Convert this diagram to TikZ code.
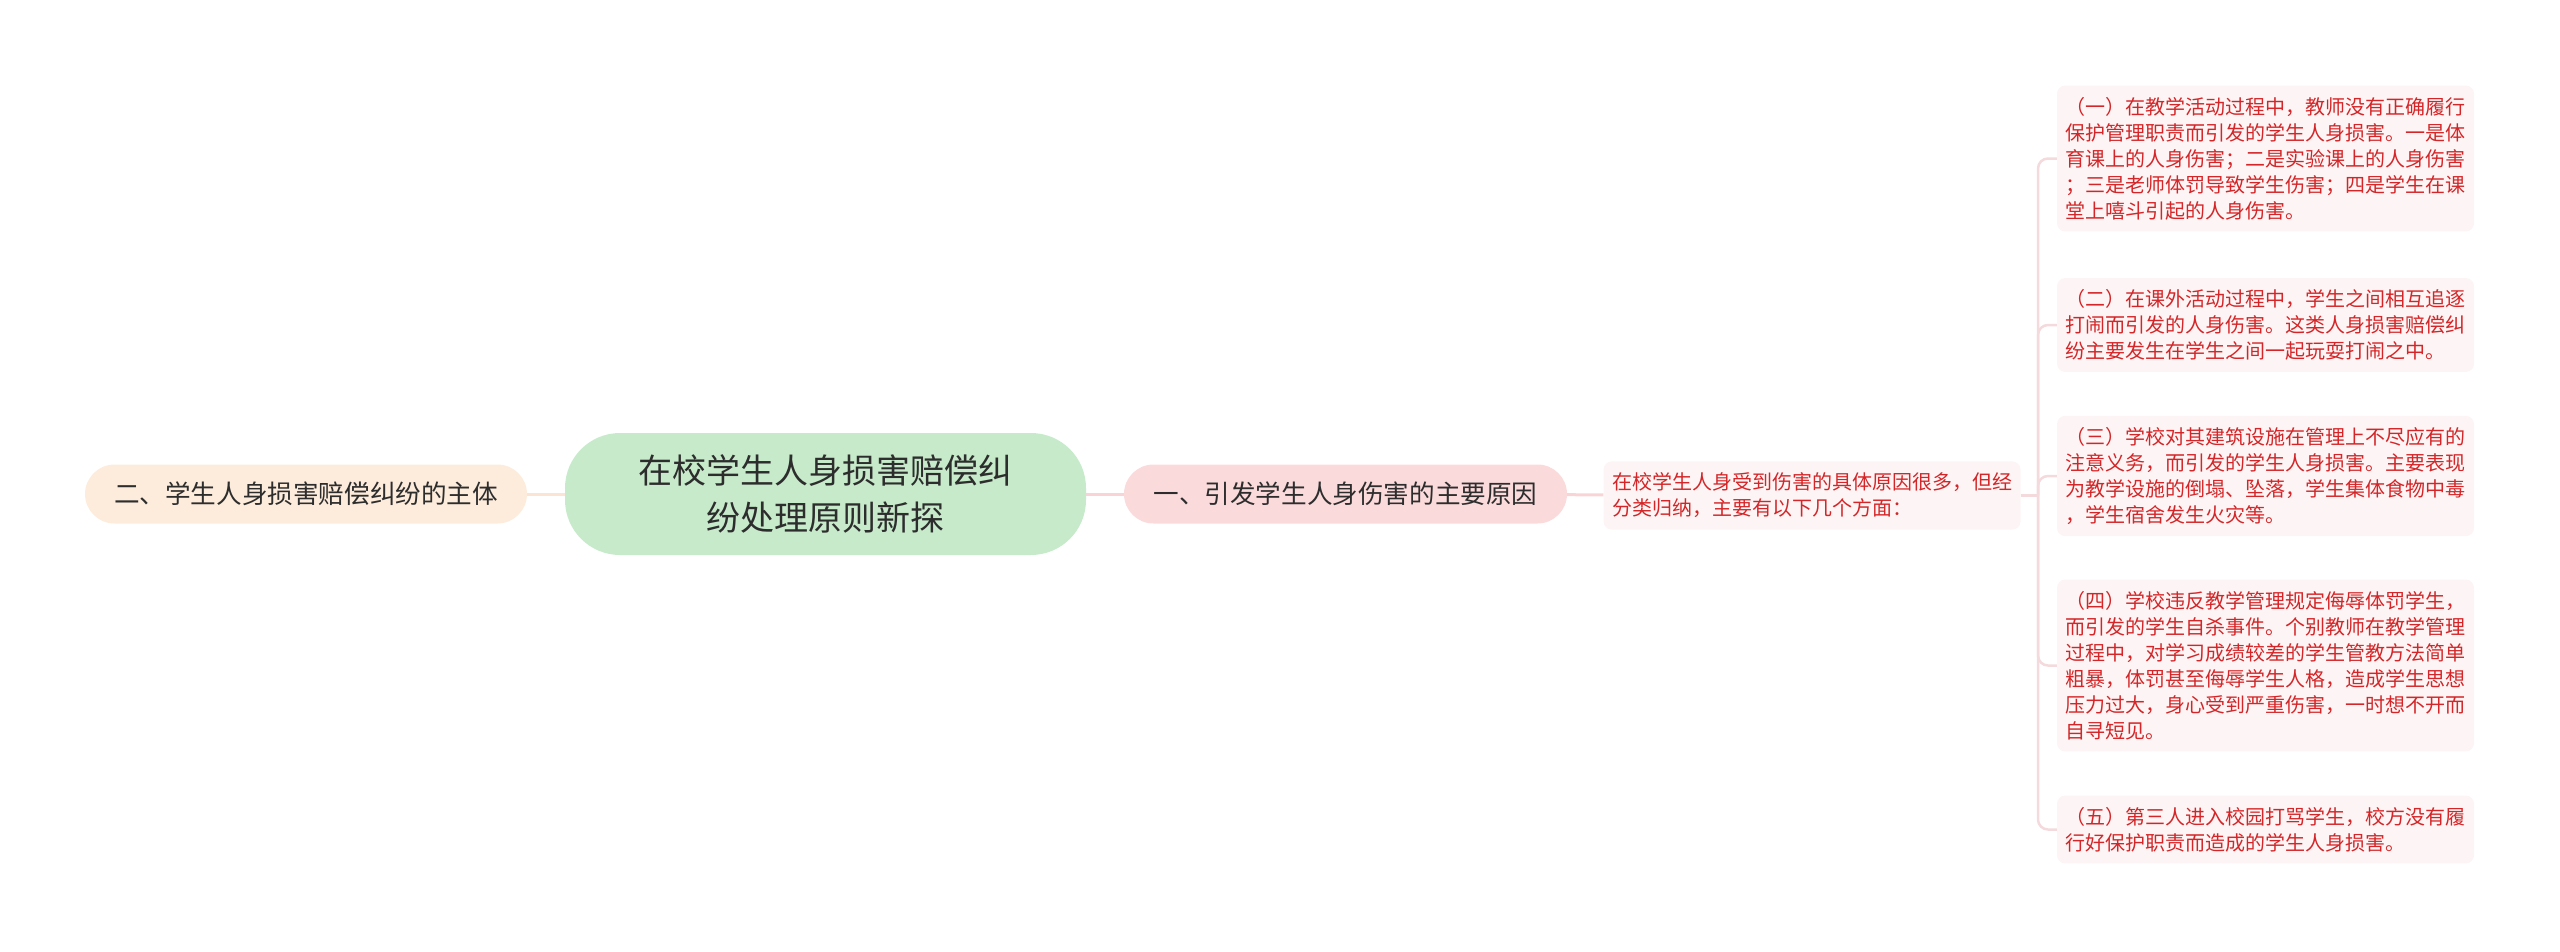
\documentclass[tikz,border=0pt]{standalone}
\usepackage{fontspec}
\setmainfont{Noto Sans CJK SC}
\usepackage{tikz}
\definecolor{rootgreen}{RGB}{199,235,202}
\definecolor{peach}{RGB}{253,236,220}
\definecolor{rosefill}{RGB}{251,218,219}
\definecolor{leaffill}{RGB}{253,245,245}
\definecolor{leafred}{RGB}{212,38,40}
\definecolor{darktext}{RGB}{45,45,45}
\definecolor{peachline}{RGB}{251,228,212}
\definecolor{roseline}{RGB}{248,212,214}
\definecolor{forkline}{RGB}{244,218,220}

\begin{document}
\begin{tikzpicture}[x=1pt, y=-1pt,
  rootbox/.style={rounded corners=55pt, fill=rootgreen, text=darktext, align=center,
    minimum width=521pt, minimum height=122pt, font=\fontsize{34}{47}\selectfont},
  mainbox/.style={rounded corners=29.5pt, text=darktext, minimum height=59pt,
    font=\fontsize{25.6}{30}\selectfont},
  leafbox/.style={rounded corners=8pt, fill=leaffill, text=leafred, align=left,
    text width=400pt, inner xsep=8.5pt, inner ysep=11.5pt, font=\fontsize{20}{26}\selectfont},
  link/.style={line width=3pt},
  forklink/.style={line width=2.5pt, draw=forkline, rounded corners=10pt}]
\useasboundingbox (0,0) rectangle (2560,951);
\node (rt) at (825.5,494) [rootbox] {在校学生人身损害赔偿纠\\纷处理原则新探};
\node (l1) at (306,494) [mainbox, fill=peach, minimum width=442pt] {二、学生人身损害赔偿纠纷的主体};
\node (r1) at (1345.5,494) [mainbox, fill=rosefill, minimum width=443pt] {一、引发学生人身伤害的主要原因};
\node (m1) at (1812,495.5) [leafbox] {在校学生人身受到伤害的具体原因很多，但经\\分类归纳，主要有以下几个方面：};
\node (s1) at (2265.5,158.5) [leafbox] {（一）在教学活动过程中，教师没有正确履行\\保护管理职责而引发的学生人身损害。一是体\\育课上的人身伤害；二是实验课上的人身伤害\\；三是老师体罚导致学生伤害；四是学生在课\\堂上嘻斗引起的人身伤害。};
\node (s2) at (2265.5,325) [leafbox] {（二）在课外活动过程中，学生之间相互追逐\\打闹而引发的人身伤害。这类人身损害赔偿纠\\纷主要发生在学生之间一起玩耍打闹之中。};
\node (s3) at (2265.5,476) [leafbox] {（三）学校对其建筑设施在管理上不尽应有的\\注意义务，而引发的学生人身损害。主要表现\\为教学设施的倒塌、坠落，学生集体食物中毒\\，学生宿舍发生火灾等。};
\node (s4) at (2265.5,665.5) [leafbox] {（四）学校违反教学管理规定侮辱体罚学生，\\而引发的学生自杀事件。个别教师在教学管理\\过程中，对学习成绩较差的学生管教方法简单\\粗暴，体罚甚至侮辱学生人格，造成学生思想\\压力过大，身心受到严重伤害，一时想不开而\\自寻短见。};
\node (s5) at (2265.5,829.5) [leafbox] {（五）第三人进入校园打骂学生，校方没有履\\行好保护职责而造成的学生人身损害。};
\coordinate (fk) at (2038,495.5);
\draw[link, peachline] (l1) -- (rt);
\draw[link, roseline] (rt) -- (r1);
\draw[link, roseline] (r1) -- (m1);
\draw[forklink] (m1) -- (fk);
\draw[forklink] (fk) |- (s1.west);
\draw[forklink] (fk) |- (s2.west);
\draw[forklink] (fk) |- (s3.west);
\draw[forklink] (fk) |- (s4.west);
\draw[forklink] (fk) |- (s5.west);
\end{tikzpicture}
\end{document}
